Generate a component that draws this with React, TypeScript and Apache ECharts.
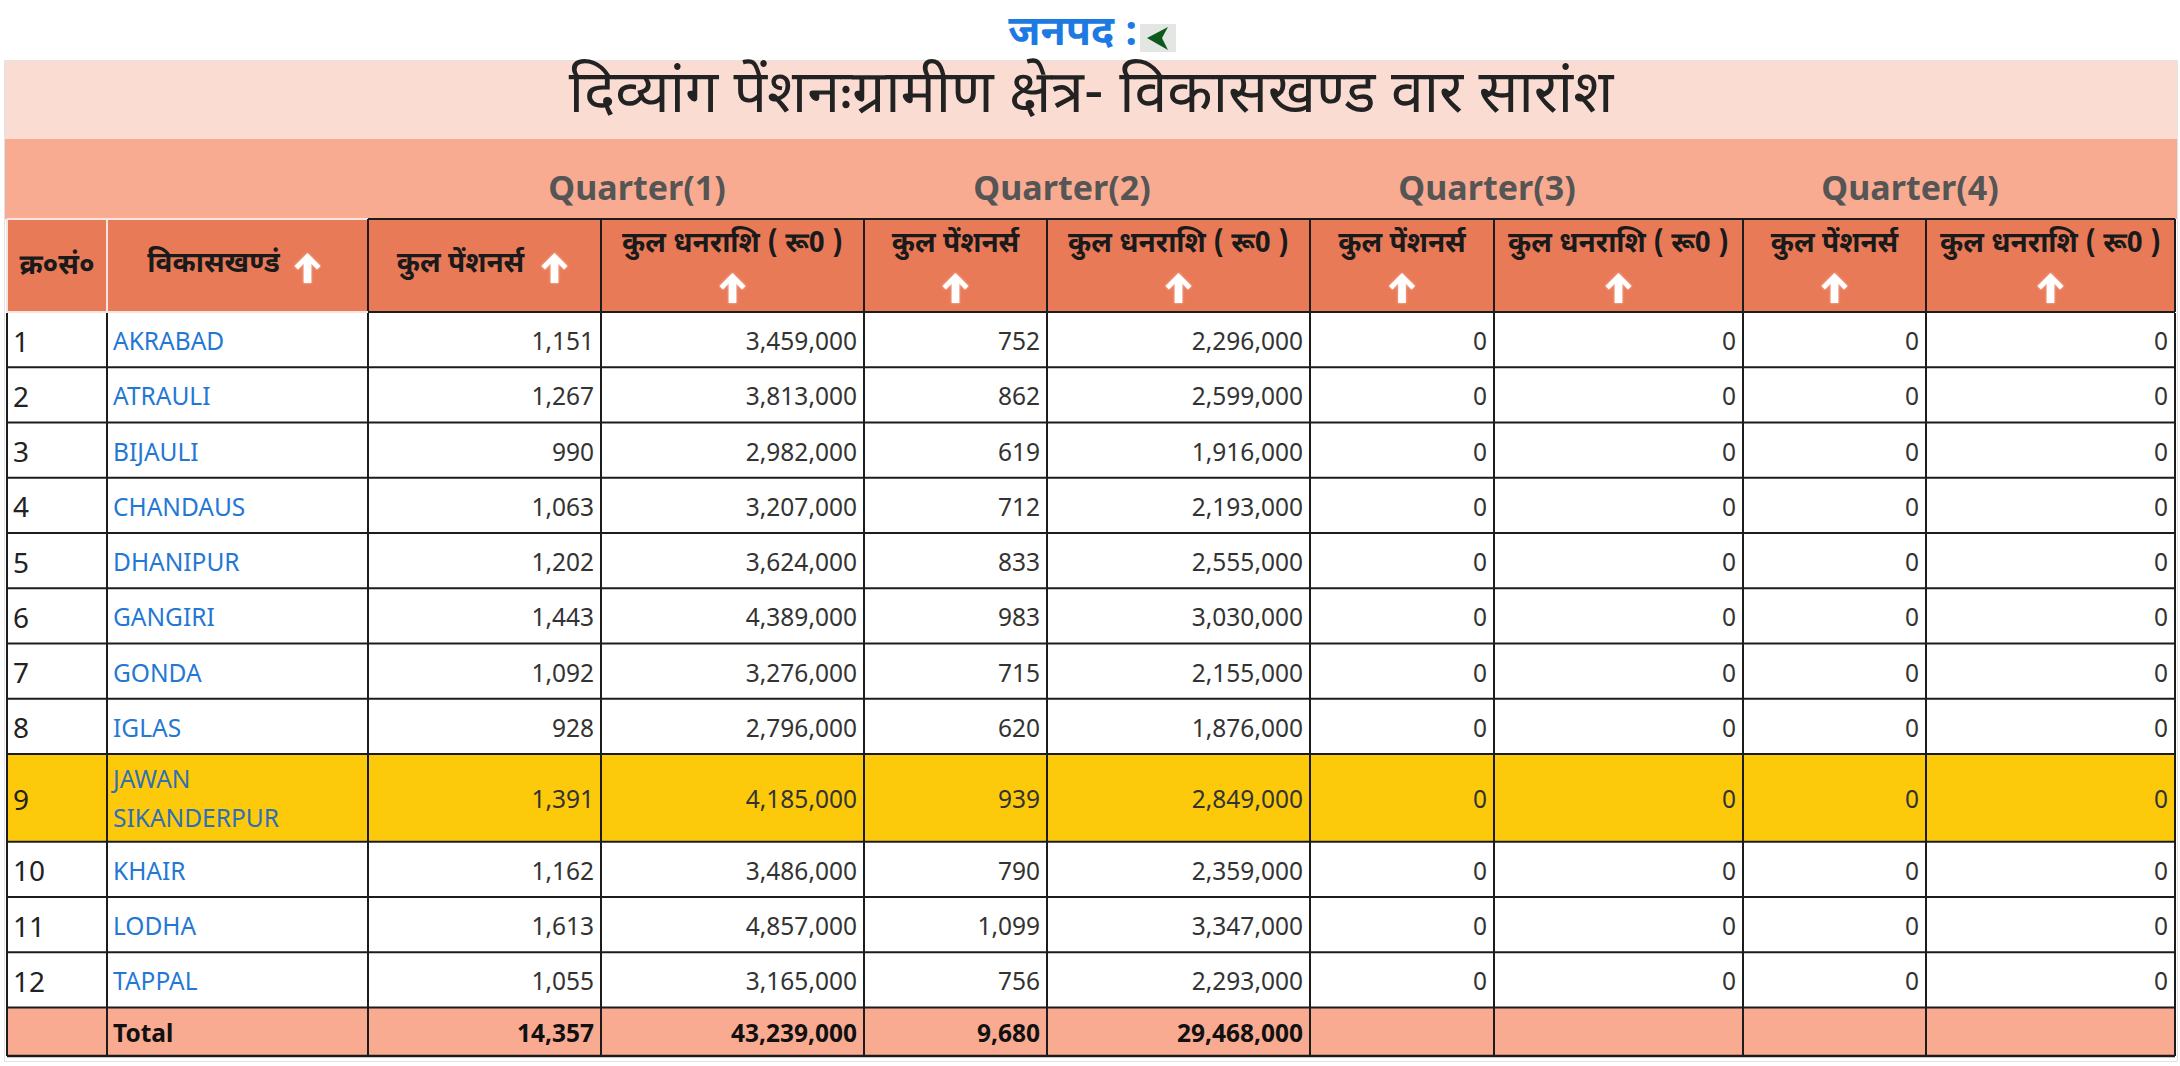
import React, { useEffect, useRef } from "react";
import * as echarts from "echarts";

// ---------- data ----------
const districtLabel = "जनपद :";
const titleText = "दिव्यांग पेंशनःग्रामीण क्षेत्र- विकासखण्ड वार सारांश";
const quarterLabels = ["Quarter(1)", "Quarter(2)", "Quarter(3)", "Quarter(4)"];
const headerLabels = [
  "क्र०सं०",
  "विकासखण्डं",
  "कुल पेंशनर्स",
  "कुल धनराशि ( रू0 )",
  "कुल पेंशनर्स",
  "कुल धनराशि ( रू0 )",
  "कुल पेंशनर्स",
  "कुल धनराशि ( रू0 )",
  "कुल पेंशनर्स",
  "कुल धनराशि ( रू0 )",
];
const blocks = [
  "AKRABAD",
  "ATRAULI",
  "BIJAULI",
  "CHANDAUS",
  "DHANIPUR",
  "GANGIRI",
  "GONDA",
  "IGLAS",
  "JAWAN SIKANDERPUR",
  "KHAIR",
  "LODHA",
  "TAPPAL",
];
const q1Pensioners = [1151, 1267, 990, 1063, 1202, 1443, 1092, 928, 1391, 1162, 1613, 1055];
const q1Amount = [3459000, 3813000, 2982000, 3207000, 3624000, 4389000, 3276000, 2796000, 4185000, 3486000, 4857000, 3165000];
const q2Pensioners = [752, 862, 619, 712, 833, 983, 715, 620, 939, 790, 1099, 756];
const q2Amount = [2296000, 2599000, 1916000, 2193000, 2555000, 3030000, 2155000, 1876000, 2849000, 2359000, 3347000, 2293000];
const q3Pensioners = [0, 0, 0, 0, 0, 0, 0, 0, 0, 0, 0, 0];
const q3Amount = [0, 0, 0, 0, 0, 0, 0, 0, 0, 0, 0, 0];
const q4Pensioners = [0, 0, 0, 0, 0, 0, 0, 0, 0, 0, 0, 0];
const q4Amount = [0, 0, 0, 0, 0, 0, 0, 0, 0, 0, 0, 0];
const totalLabel = "Total";
const totals: (number | null)[] = [14357, 43239000, 9680, 29468000, null, null, null, null];
const highlightedBlock = "JAWAN SIKANDERPUR";

// ---------- layout / style ----------
const W = 2180;
const H = 1066;
const COLS = [7, 107, 368, 601, 864, 1047, 1310, 1494, 1743, 1926, 2175];
const TITLE_TOP = 61;
const Q_TOP = 139;
const HEAD_TOP = 219;
const HEAD_BOTTOM = 312;
const ROW_H = 55.25;
const ROW_H2 = 87.7;
const TOTAL_H = 48.5;
const Q_CENTERS = [637, 1062, 1487, 1910];

const DEV = "'Noto Sans Devanagari', 'Lohit Devanagari', 'Nirmala UI', 'Noto Sans', sans-serif";
const LAT = "'Noto Sans', 'Open Sans', sans-serif";
const LINE = "#1c1c1c";

function arrow(cx: number, cy: number) {
  const p = [
    [0, -15], [13, -2], [9.5, 1.5], [3.8, -4.5], [3.8, 15], [-3.8, 15], [-3.8, -4.5], [-9.5, 1.5], [-13, -2],
  ].map(([x, y]) => [cx + x, cy + y]);
  return { type: "polygon", shape: { points: p }, style: { fill: "#ffffff", shadowBlur: 2, shadowColor: "rgba(255,255,255,0.6)" }, silent: true };
}

function txt(text: string, x: number, y: number, o: any = {}) {
  return {
    type: "text",
    x,
    y,
    silent: true,
    style: {
      text,
      fill: o.fill || "#222",
      fontSize: o.size || 24,
      fontFamily: o.family || LAT,
      fontWeight: o.weight || "normal",
      align: o.align || "left",
      verticalAlign: "middle",
    },
  };
}

function hline(x1: number, x2: number, y: number, color = LINE, w = 2) {
  return { type: "line", shape: { x1, y1: y, x2, y2: y }, style: { stroke: color, lineWidth: w }, silent: true };
}
function vline(x: number, y1: number, y2: number, color = LINE, w = 2) {
  return { type: "line", shape: { x1: x, y1, x2: x, y2 }, style: { stroke: color, lineWidth: w }, silent: true };
}
function rect(x: number, y: number, w: number, h: number, fill: string) {
  return { type: "rect", shape: { x, y, width: w, height: h }, style: { fill }, silent: true };
}

const fmt = (v: number) => v.toLocaleString("en-US");

function buildGraphics() {
  const els: any[] = [];
  const left = COLS[0];
  const right = COLS[COLS.length - 1];

  // outer container border
  els.push({ type: "rect", shape: { x: 4.5, y: TITLE_TOP - 0.5, width: 2173, height: 1001 }, style: { fill: "#fff", stroke: "#e2e2e2", lineWidth: 1 }, silent: true });

  // district label + icon
  els.push(txt(districtLabel, 1138, 35, { size: 41, weight: "bold", fill: "#1d7ae2", family: DEV, align: "right" }));
  els.push(rect(1140, 24, 36, 28, "#e4e6e4"));
  els.push({ type: "polygon", shape: { points: [[1147, 38], [1168, 27], [1162, 38], [1168, 50]] }, style: { fill: "#0b5a1c" }, silent: true });

  // title band
  els.push(rect(5, TITLE_TOP, 2172, Q_TOP - TITLE_TOP, "#fbdcd2"));
  els.push(txt(titleText, (left + right) / 2, 97, { size: 59, family: DEV, fill: "#222", align: "center" }));

  // quarter band
  els.push(rect(5, Q_TOP, 2172, HEAD_TOP - Q_TOP, "#f9ab91"));
  quarterLabels.forEach((q, i) => {
    els.push(txt(q, Q_CENTERS[i], 187, { size: 34, weight: "bold", fill: "#555555", family: LAT, align: "center" }));
  });

  // header band
  els.push(rect(left, HEAD_TOP, right - left, HEAD_BOTTOM - HEAD_TOP, "#e97a58"));

  // data rows
  const rowHeights = blocks.map((b) => (b.includes(" ") && b.length > 14 ? ROW_H2 : ROW_H));
  const rowTops: number[] = [];
  let y = HEAD_BOTTOM;
  rowHeights.forEach((h) => {
    rowTops.push(y);
    y += h;
  });
  const totalTop = y;
  const bottom = y + TOTAL_H;

  const valueCols = [q1Pensioners, q1Amount, q2Pensioners, q2Amount, q3Pensioners, q3Amount, q4Pensioners, q4Amount];

  blocks.forEach((b, i) => {
    const top = rowTops[i];
    const h = rowHeights[i];
    const cy = top + h / 2;
    if (b === highlightedBlock) els.push(rect(left, top, right - left, h, "#fdca0b"));
    els.push(txt(String(i + 1), 13, cy + 1, { size: 28, fill: "#222" }));
    if (h > ROW_H) {
      const parts = b.split(" ");
      els.push(txt(parts[0], 113, cy - 19, { size: 24.5, fill: "#2f6fb8" }));
      els.push(txt(parts.slice(1).join(" "), 113, cy + 20, { size: 24.5, fill: "#2f6fb8" }));
    } else {
      els.push(txt(b, 113, cy + 1, { size: 24.5, fill: "#2478d4" }));
    }
    valueCols.forEach((col, c) => {
      els.push(txt(fmt(col[i]), COLS[c + 3] - 7, cy + 1, { size: 24.5, fill: "#333", align: "right" }));
    });
  });

  // total row
  els.push(rect(left, totalTop, right - left, TOTAL_H, "#f9ab91"));
  const tcy = totalTop + TOTAL_H / 2;
  els.push(txt(totalLabel, 113, tcy + 1, { size: 24.5, weight: "bold", fill: "#111" }));
  totals.forEach((v, c) => {
    if (v !== null) els.push(txt(fmt(v), COLS[c + 3] - 7, tcy + 1, { size: 24.5, weight: "bold", fill: "#111", align: "right" }));
  });

  // header texts
  headerLabels.forEach((label, c) => {
    const cc = (COLS[c] + COLS[c + 1]) / 2;
    const hs = { size: 28, weight: "bold", fill: "#1a1a1a", family: DEV };
    if (c === 0) {
      els.push(txt(label, cc, 267, { ...hs, align: "center" }));
    } else if (c === 1 || c === 2) {
      els.push(txt(label, cc - 24, 265, { ...hs, align: "center" }));
      els.push(arrow(cc + 70, 268));
    } else {
      els.push(txt(label, cc, 245, { ...hs, align: "center" }));
      els.push(arrow(cc, 288));
    }
  });

  // header borders
  els.push(hline(left, COLS[2], HEAD_TOP, "#f3e6e0"));
  els.push(hline(COLS[2], right, HEAD_TOP, LINE));
  els.push(vline(COLS[0], HEAD_TOP, HEAD_BOTTOM, "#f3e6e0"));
  els.push(vline(COLS[1], HEAD_TOP, HEAD_BOTTOM, "#f3e6e0"));
  for (let c = 2; c < COLS.length; c++) els.push(vline(COLS[c], HEAD_TOP, HEAD_BOTTOM, LINE));
  els.push(hline(left, COLS[2], HEAD_BOTTOM, "#f3e6e0"));
  els.push(hline(COLS[2], right, HEAD_BOTTOM, LINE));

  // body grid
  rowTops.forEach((t, i) => {
    if (i > 0) els.push(hline(left, right, t));
  });
  els.push(hline(left, right, totalTop));
  els.push(hline(left, right, bottom, LINE, 2.5));
  COLS.forEach((x) => els.push(vline(x, HEAD_BOTTOM + 1, bottom)));

  return els;
}

export default function App() {
  const ref = useRef<HTMLDivElement>(null);
  useEffect(() => {
    if (!ref.current) return;
    const chart = echarts.init(ref.current, undefined, { renderer: "svg" });
    chart.setOption({
      animation: false,
      backgroundColor: "#ffffff",
      graphic: { elements: buildGraphics() },
    });
    return () => chart.dispose();
  }, []);
  return <div ref={ref} style={{ position: "fixed", left: 0, top: 0, width: W, height: H }} />;
}
